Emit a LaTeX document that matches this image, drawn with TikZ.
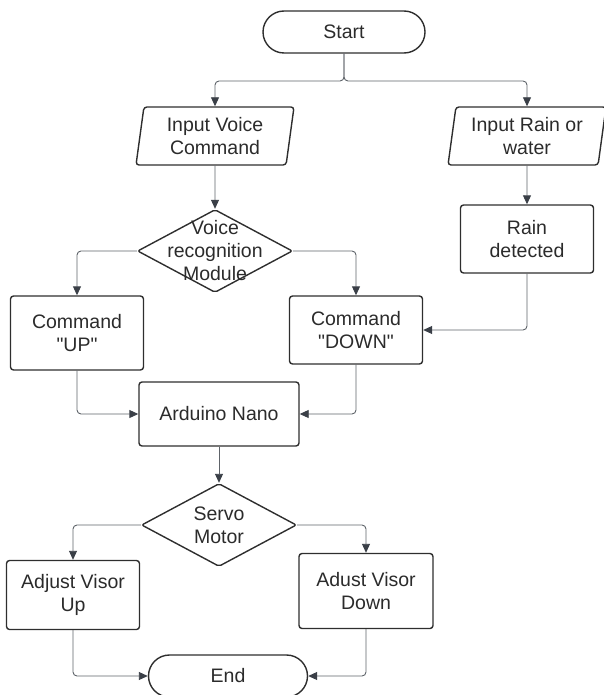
\documentclass[tikz,border=0pt]{standalone}
\usepackage{fontspec}
\setmainfont{Liberation Sans}
\usetikzlibrary{arrows.meta,shapes.geometric}
\definecolor{edge}{HTML}{2E2E2E}
\definecolor{wire}{HTML}{5E6369}
\definecolor{tip}{HTML}{3A3F47}
\definecolor{txt}{HTML}{2B2B2B}

\begin{document}
\begin{tikzpicture}[x=1pt,y=-1pt,
  every node/.style={font=\fontsize{19.5}{23}\selectfont,align=center,text=txt},
  box/.style={draw=edge,line width=1.4pt,rounded corners=3pt,inner sep=0pt,minimum width=133pt,minimum height=74pt},
  term/.style={draw=edge,line width=1.4pt,rounded corners=21pt,minimum width=162pt,minimum height=42pt},
  io/.style={draw=edge,line width=1.4pt,rounded corners=3pt,trapezium,trapezium left angle=78,trapezium right angle=102,trapezium stretches body,inner sep=0pt,minimum width=158pt,minimum height=58pt},
  decision/.style={draw=edge,line width=1.4pt,diamond,rounded corners=2pt,inner sep=0pt,minimum width=155pt,minimum height=83pt},
  flow/.style={draw=wire,line width=0.9pt,rounded corners=4pt,-{Triangle[length=9pt,width=8pt,color=tip]}}
]
\useasboundingbox (0,0) rectangle (603,695);

\node[term] (start) at (344,32) {Start};
\node[io] (vin) at (215,136) {Input Voice\\Command};
\node[io] (rin) at (527,136) {Input Rain or\\water};
\node[decision,label={center:{Voice\\recognition\\Module}}] (vr) at (215,251) {};
\node[box,minimum height=68pt] (rd) at (527,239) {Rain\\detected};
\node[box] (cup) at (77,333) {Command\\\textquotedbl UP\textquotedbl};
\node[box,minimum height=68pt] (cdown) at (356,330) {Command\\\textquotedbl DOWN\textquotedbl};
\node[box,minimum width=160pt,minimum height=64pt] (ard) at (219,414) {Arduino Nano};
\node[decision,label={center:{Servo\\Motor}}] (servo) at (219,525) {};
\node[box,minimum height=69pt] (aup) at (73,595) {Adjust Visor\\Up};
\node[box,minimum width=134pt,minimum height=75pt] (adown) at (366,591) {Adust Visor\\Down};
\node[term,minimum width=159pt] (end) at (228,676) {End};

\coordinate (split) at (344,81);

\draw[flow] (start) -- (split) -| (vin.north);
\draw[flow] (start) -- (split) -| (rin.north);
\draw[flow] (vin) -- (vr);
\draw[flow] (rin) -- (rd);
\draw[flow] (vr.west) -| (cup.north);
\draw[flow] (vr.east) -| (cdown.north);
\draw[flow] (rd.south) |- (cdown.east);
\draw[flow] (cup.south) |- (ard.west);
\draw[flow] (cdown.south) |- (ard.east);
\draw[flow] (ard) -- (servo);
\draw[flow] (servo.west) -| (aup.north);
\draw[flow] (servo.east) -| (adown.north);
\draw[flow] (aup.south) |- (end.west);
\draw[flow] (adown.south) |- (end.east);

\end{tikzpicture}
\end{document}
